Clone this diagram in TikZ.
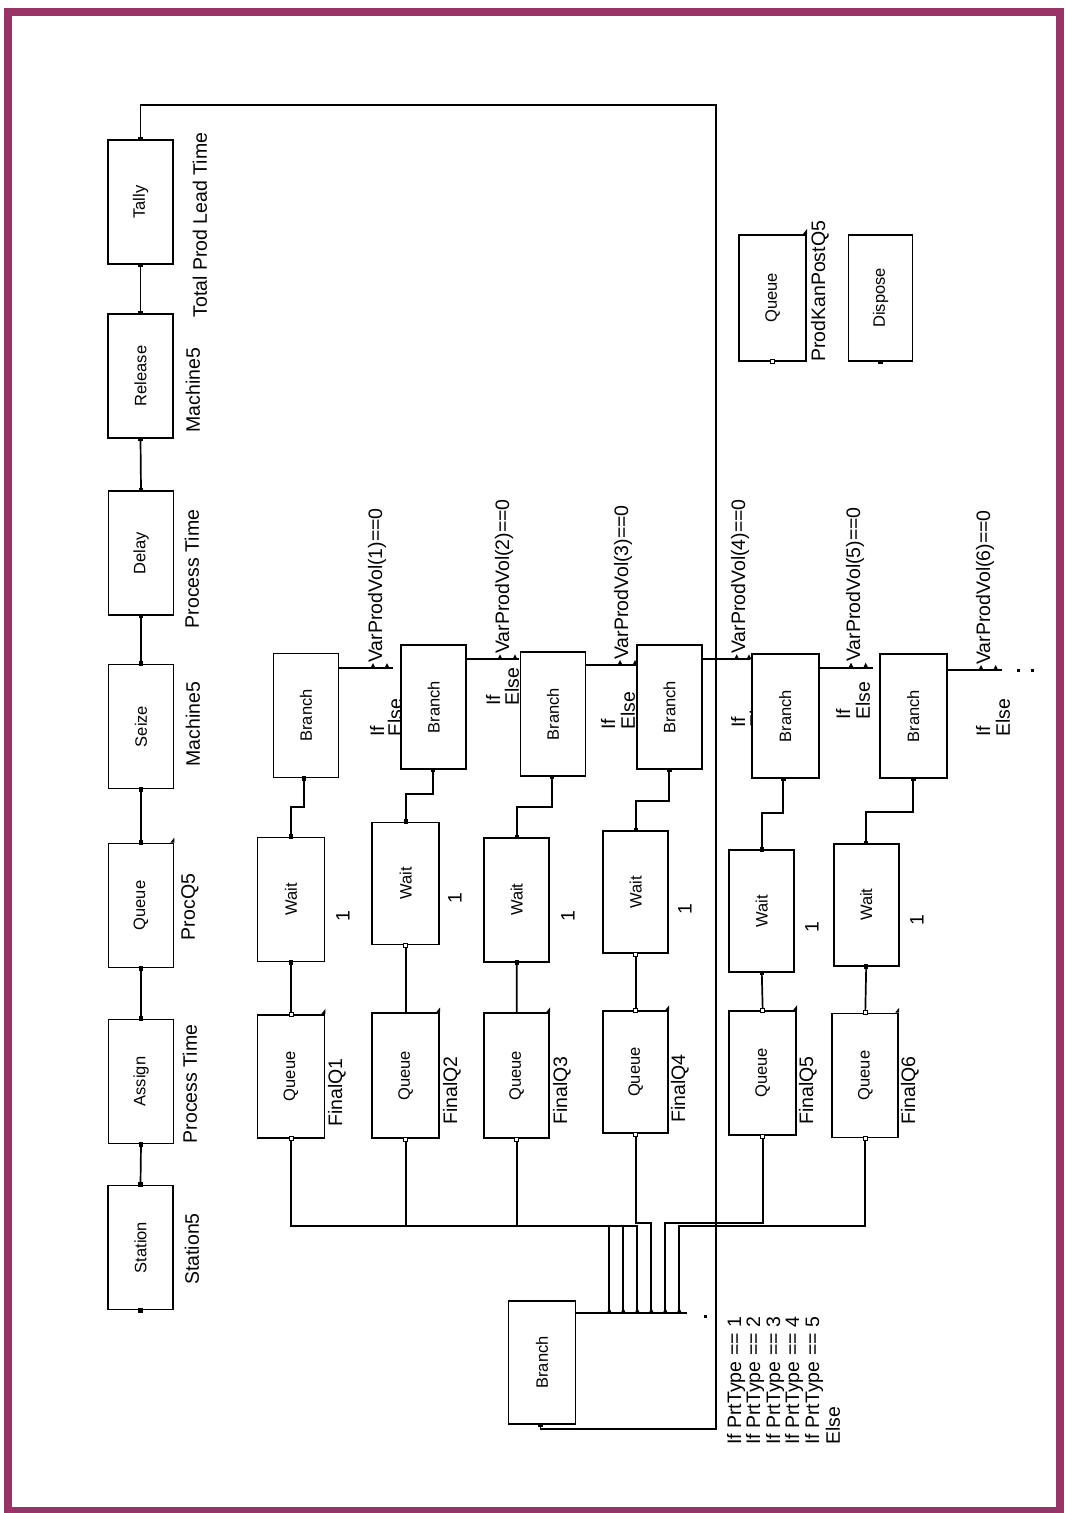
\documentclass[tikz,border=0pt]{standalone}
\usepackage{fontspec}
\setmainfont{Liberation Sans}
\definecolor{plum}{RGB}{153,51,102}
\newcommand\mytri[1]{\fill (#1) ++(-2.5,0) -- ++(2.5,-5) -- ++(2.5,5) -- cycle;}
\newcommand\mysq[1]{\fill (#1) ++(-2.2,-2.2) rectangle ++(4.4,4.4);}
\newcommand\myosq[1]{\filldraw[line width=0.8pt,fill=white] (#1) ++(-2,-2) rectangle ++(4,4);}
\newcommand\mycorner[1]{\fill (#1) ++(-4,0) -- ++(4,-5) -- ++(0,5) -- cycle;}
\begin{document}
\begin{tikzpicture}[x=1pt,y=-1pt,
  blk/.style={draw, fill=white, line width=1.8pt, inner sep=0pt,
    minimum width=65pt, minimum height=124pt, font=\fontsize{16.5}{16.5}\selectfont},
  lbl/.style={rotate=90, inner sep=0pt, font=\fontsize{19.5}{19.5}\selectfont},
  conn/.style={line width=1.7pt}]
\useasboundingbox (0,0) rectangle (1065,1513);
\draw[plum, line width=8pt] (8,11.5) rectangle (1059.7,1511);

% ---------- coordinates ----------
\coordinate (loopA) at (716,105);
\coordinate (loopB) at (716,1429);
\coordinate (e1) at (393,668);
\coordinate (e2) at (519,659.3);
\coordinate (e3) at (637,665);
\coordinate (e4) at (750,659.3);
\coordinate (e5) at (873,667.7);
\coordinate (e6) at (1002,670);
\coordinate (x1) at (609.3,1313);
\coordinate (x2) at (623.3,1313);
\coordinate (x3) at (637.3,1313);
\coordinate (x4) at (651.3,1313);
\coordinate (x5) at (665.3,1313);
\coordinate (x6) at (679.3,1313);
\coordinate (xend) at (687,1313);

% ---------- labels (drawn before boxes) ----------
\node[lbl] (lTally) at (200,225) {Total Prod Lead Time};
\node[lbl] (lRel) at (193,390) {Machine5};
\node[lbl] (lDel) at (192,569) {Process Time};
\node[lbl] (lSeize) at (193,724) {Machine5};
\node[lbl] (lPQ) at (190,907) {ProcQ5};
\node[lbl] (lAs) at (190,1084) {Process Time};
\node[lbl] (lSt) at (192,1249) {Station5};

\node[lbl,anchor=west] (vp1) at (377,663) {VarProdVol(1)==0};
\node[lbl,anchor=west] (vp2) at (504,654) {VarProdVol(2)==0};
\node[lbl,anchor=west] (vp3) at (623,660) {VarProdVol(3)==0};
\node[lbl,anchor=west] (vp4) at (740,654) {VarProdVol(4)==0};
\node[lbl,anchor=west] (vp5) at (855,662) {VarProdVol(5)==0};
\node[lbl,anchor=west] (vp6) at (985,665) {VarProdVol(6)==0};

\node[lbl,anchor=west] (if1) at (377,737) {If};
\node[lbl,anchor=west] (el1) at (395,737) {Else};
\node[lbl,anchor=west] (if2) at (493,706) {If};
\node[lbl,anchor=west] (el2) at (512,706) {Else};
\node[lbl,anchor=west] (if3) at (608,730) {If};
\node[lbl,anchor=west] (el3) at (628,730) {Else};
\node[lbl,anchor=west] (if4) at (738,728) {If};
\node[lbl,anchor=west] (el4) at (757,728) {Else};
\node[lbl,anchor=west] (if5) at (843,720) {If};
\node[lbl,anchor=west] (el5) at (863,720) {Else};
\node[lbl,anchor=west] (if6) at (983,737) {If};
\node[lbl,anchor=west] (el6) at (1003,737) {Else};

\node[lbl] (one1) at (343,916) {1};
\node[lbl] (one2) at (455,898) {1};
\node[lbl] (one3) at (568,916) {1};
\node[lbl] (one4) at (685,909) {1};
\node[lbl] (one5) at (812,927) {1};
\node[lbl] (one6) at (917,920) {1};

\node[lbl,anchor=west] (fq1) at (337,1127) {FinalQ1};
\node[lbl,anchor=west] (fq2) at (452,1125) {FinalQ2};
\node[lbl,anchor=west] (fq3) at (562,1125) {FinalQ3};
\node[lbl,anchor=west] (fq4) at (680,1123) {FinalQ4};
\node[lbl,anchor=west] (fq5) at (808,1125) {FinalQ5};
\node[lbl,anchor=west] (fq6) at (910,1125) {FinalQ6};

\node[lbl,anchor=west] (pt1) at (736,1445) {If PrtType == 1};
\node[lbl,anchor=west] (pt2) at (755,1445) {If PrtType == 2};
\node[lbl,anchor=west] (pt3) at (775,1445) {If PrtType == 3};
\node[lbl,anchor=west] (pt4) at (794,1445) {If PrtType == 4};
\node[lbl,anchor=west] (pt5) at (814,1445) {If PrtType == 5};
\node[lbl,anchor=west] (pt6) at (833,1445) {Else};

\node[lbl,anchor=west] (lKan) at (820,362) {ProdKanPostQ5};

% ---------- boxes ----------
\node[blk] (tally) at (140.5,202) {\rotatebox{90}{Tally}};
\node[blk] (release) at (140.5,376) {\rotatebox{90}{Release}};
\node[blk] (delay) at (141,553) {\rotatebox{90}{Delay}};
\node[blk] (seize) at (141,726.5) {\rotatebox{90}{Seize}};
\node[blk] (procq) at (141,905.5) {\rotatebox{90}{Queue}};
\node[blk] (assign) at (141,1081.5) {\rotatebox{90}{Assign}};
\node[blk] (station) at (140.5,1247.5) {\rotatebox{90}{Station}};

\node[blk] (b1) at (306,715.5) {\rotatebox{90}{Branch}};
\node[blk] (b2) at (433.7,707) {\rotatebox{90}{Branch}};
\node[blk] (b3) at (553,714) {\rotatebox{90}{Branch}};
\node[blk] (b4) at (669.5,707) {\rotatebox{90}{Branch}};
\node[blk,minimum width=67pt] (b5) at (785.3,716) {\rotatebox{90}{Branch}};
\node[blk,minimum width=67pt] (b6) at (913.3,716) {\rotatebox{90}{Branch}};

\node[blk,minimum width=67pt] (w1) at (291,899.5) {\rotatebox{90}{Wait}};
\node[blk,minimum width=67pt,minimum height=122pt] (w2) at (405.7,883.5) {\rotatebox{90}{Wait}};
\node[blk] (w3) at (516.8,899.7) {\rotatebox{90}{Wait}};
\node[blk,minimum height=122pt] (w4) at (635.7,892) {\rotatebox{90}{Wait}};
\node[blk,minimum height=122pt] (w5) at (761.8,911.3) {\rotatebox{90}{Wait}};
\node[blk,minimum height=122pt] (w6) at (866.2,904.7) {\rotatebox{90}{Wait}};

\node[blk,minimum width=67pt,minimum height=123pt] (q1) at (291,1076.3) {\rotatebox{90}{Queue}};
\node[blk,minimum width=67pt,minimum height=125pt] (q2) at (405.7,1075.8) {\rotatebox{90}{Queue}};
\node[blk,minimum height=125pt] (q3) at (516.7,1075.7) {\rotatebox{90}{Queue}};
\node[blk,minimum height=122pt] (q4) at (635.7,1072.2) {\rotatebox{90}{Queue}};
\node[blk,minimum width=67pt] (q5) at (762.7,1073) {\rotatebox{90}{Queue}};
\node[blk,minimum width=66pt] (q6) at (865.3,1075.5) {\rotatebox{90}{Queue}};

\node[blk,minimum width=67pt,minimum height=123pt] (bbr) at (542,1362.5) {\rotatebox{90}{Branch}};

\node[blk,minimum width=67pt,minimum height=126pt] (kq) at (772.7,297.8) {\rotatebox{90}{Queue}};
\node[blk,minimum width=64pt,minimum height=126pt] (disp) at (880.5,297.8) {\rotatebox{90}{Dispose}};

% ---------- connectors ----------
\draw[conn] (station.north) -- (assign.south);
\draw[conn] (assign.north) -- (procq.south);
\draw[conn] (procq.north) -- (seize.south);
\draw[conn] (seize.north) -- (delay.south);
\draw[conn] (delay.north) -- (release.south);
\draw[conn] (release.north) -- (tally.south);
\draw[conn] (tally.north) |- (loopA) -- (loopB) -| (bbr.south -| 540.5,0);

\draw[conn] (b1.east |- e1) -- (e1);
\draw[conn] (b2.east |- e2) -- (e2);
\draw[conn] (b3.east |- e3) -- (e3);
\draw[conn] (b4.east |- e4) -- (e4);
\draw[conn] (b5.east |- e5) -- (e5);
\draw[conn] (b6.east |- e6) -- (e6);

\draw[conn] (b1.south -| 304,0) |- (w1.north |- 0,807.3) -- (w1.north);
\draw[conn] (b2.south -| 432.7,0) |- (w2.north |- 0,794) -- (w2.north);
\draw[conn] (b3.south -| 551.7,0) |- (w3.north |- 0,807.3) -- (w3.north);
\draw[conn] (b4.south -| 669.3,0) |- (w4.north |- 0,801) -- (w4.north);
\draw[conn] (b5.south -| 783.3,0) |- (w5.north |- 0,812.7) -- (w5.north);
\draw[conn] (b6.south -| 913.3,0) |- (w6.north |- 0,811.7) -- (w6.north);

\draw[conn] (w1.south) -- (q1.north);
\draw[conn] (w2.south) -- (q2.north);
\draw[conn] (w3.south) -- (q3.north);
\draw[conn] (w4.south) -- (q4.north);
\draw[conn] (w5.south) -- (q5.north);
\draw[conn] (w6.south) -- (q6.north);

\draw[conn] (bbr.east |- xend) -- (xend);
\draw[conn] (q1.south) |- (x1 |- 0,1226) -- (x1);
\draw[conn] (q2.south) |- (x2 |- 0,1226) -- (x2);
\draw[conn] (q3.south) |- (x3 |- 0,1226) -- (x3);
\draw[conn] (q4.south) |- (x4 |- 0,1223) -- (x4);
\draw[conn] (q5.south) |- (x5 |- 0,1223) -- (x5);
\draw[conn] (q6.south) |- (x6 |- 0,1226) -- (x6);

% ---------- point marks ----------
\foreach \p in {x1,x2,x3,x4,x5,x6} {\mytri{\p}}
\mytri{373,668} \mytri{387,668}
\mytri{500,659.3} \mytri{515,659.3}
\mytri{620,665} \mytri{635,665}
\mytri{736.7,659.3} \mytri{749,659.3}
\mytri{851,667.7} \mytri{865.7,667.7}
\mytri{981,670} \mytri{995.7,670}
\fill (1017,669) rectangle ++(2.5,2.5);
\fill (1031,669) rectangle ++(2.5,2.5);
\fill (704,1315) rectangle ++(2.5,2.5);

\foreach \p in {station.south,station.north,assign.south,assign.north,procq.south,procq.north,
  seize.south,seize.north,delay.south,delay.north,release.south,release.north,tally.south,tally.north,
  w1.north,w1.south,w3.north,w3.south,w5.north,w5.south,w6.north,w6.south,w2.north,w4.north,disp.south}
  {\mysq{\p}}
\mysq{bbr.south -| 540.5,0}
\mysq{b1.south -| 304,0}
\mysq{b2.south -| 432.7,0}
\mysq{b3.south -| 551.7,0}
\mysq{b4.south -| 669.3,0}
\mysq{b5.south -| 783.3,0}
\mysq{b6.south -| 913.3,0}
\foreach \p in {q1.north,q1.south,q2.south,q3.south,q4.north,q4.south,q5.north,q5.south,q6.north,q6.south,w2.south,w4.south,kq.south}
  {\myosq{\p}}
\foreach \p in {q1.north east,q2.north east,q3.north east,q4.north east,q5.north east,q6.north east,procq.north east,kq.north east}
  {\mycorner{\p}}
\end{tikzpicture}
\end{document}
